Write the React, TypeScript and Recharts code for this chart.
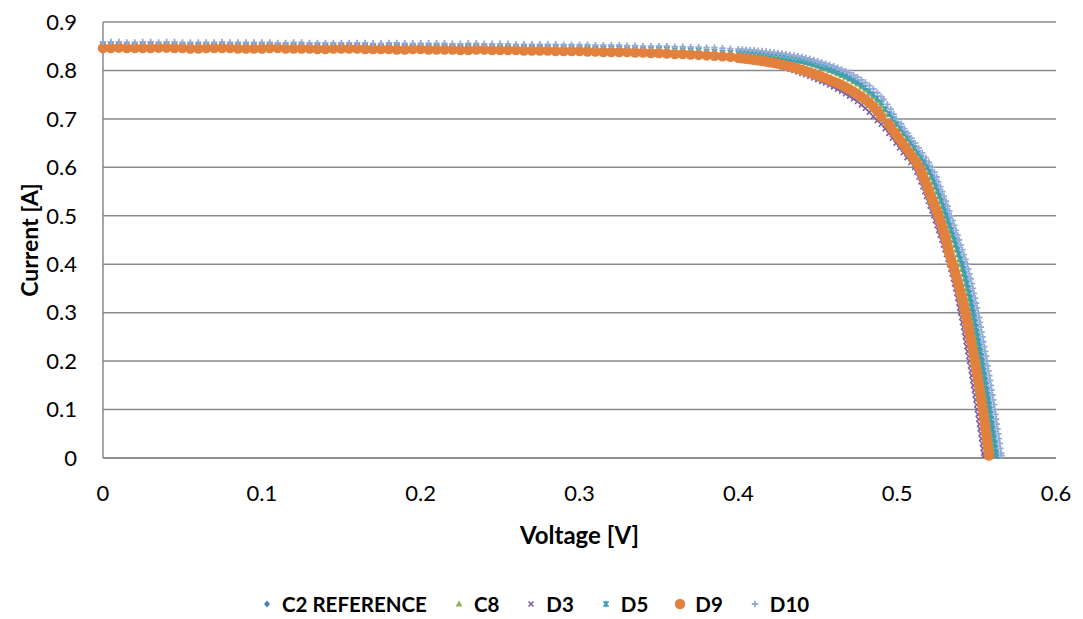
import { ScatterChart, Scatter, XAxis, YAxis, CartesianGrid } from "recharts";

const FONT = "Lato, 'Open Sans', sans-serif";

// axis ticks
const xTicks = [0, 0.1, 0.2, 0.3, 0.4, 0.5, 0.6];
const yTicks = [0, 0.1, 0.2, 0.3, 0.4, 0.5, 0.6, 0.7, 0.8, 0.9];

// sweep voltages, flat part of the curves (0 .. 0.4 V)
const sweepV = [
  0, 0.005, 0.01, 0.015, 0.02, 0.025, 0.03, 0.035, 0.04, 0.045,
  0.05, 0.055, 0.06, 0.065, 0.07, 0.075, 0.08, 0.085, 0.09, 0.095,
  0.1, 0.105, 0.11, 0.115, 0.12, 0.125, 0.13, 0.135, 0.14, 0.145,
  0.15, 0.155, 0.16, 0.165, 0.17, 0.175, 0.18, 0.185, 0.19, 0.195,
  0.2, 0.205, 0.21, 0.215, 0.22, 0.225, 0.23, 0.235, 0.24, 0.245,
  0.25, 0.255, 0.26, 0.265, 0.27, 0.275, 0.28, 0.285, 0.29, 0.295,
  0.3, 0.305, 0.31, 0.315, 0.32, 0.325, 0.33, 0.335, 0.34, 0.345,
  0.35, 0.355, 0.36, 0.365, 0.37, 0.375, 0.38, 0.385, 0.39, 0.395,
  0.4,
];

// sweep voltages around the knee
const kneeV = [
  0.4025, 0.405, 0.4075, 0.41, 0.4125, 0.415, 0.4175, 0.42, 0.4225, 0.425,
  0.4275, 0.43, 0.4325, 0.435, 0.4375, 0.44, 0.4425, 0.445, 0.4475, 0.45,
  0.4525, 0.455, 0.4575, 0.46, 0.4625, 0.465, 0.4675, 0.47, 0.4725, 0.475,
  0.4775, 0.48, 0.4825, 0.485, 0.4875, 0.49,
];

// current levels on the steep part (voltage read per series)
const steepI = [
  0.74, 0.73, 0.72, 0.71, 0.7, 0.69, 0.68, 0.67, 0.66, 0.65,
  0.64, 0.63, 0.62, 0.61, 0.6, 0.59, 0.58, 0.57, 0.56, 0.55,
  0.54, 0.53, 0.52, 0.51, 0.5, 0.49, 0.48, 0.47, 0.46, 0.45,
  0.44, 0.43, 0.42, 0.41, 0.4, 0.39, 0.38, 0.37, 0.36, 0.35,
  0.34, 0.33, 0.32, 0.31, 0.3, 0.29, 0.28, 0.27, 0.26, 0.25,
  0.24, 0.23, 0.22, 0.21, 0.2, 0.19, 0.18, 0.17, 0.16, 0.15,
  0.14, 0.13, 0.12, 0.11, 0.1, 0.09, 0.08, 0.07, 0.06, 0.05,
  0.04, 0.03, 0.02, 0.01, 0.005,
];

// ---- C2 REFERENCE ----
const c2Flat = [
  0.852, 0.852, 0.853, 0.853, 0.852, 0.852, 0.852, 0.852, 0.852, 0.852,
  0.852, 0.852, 0.851, 0.851, 0.852, 0.852, 0.851, 0.851, 0.851, 0.851,
  0.851, 0.851, 0.851, 0.851, 0.85, 0.85, 0.851, 0.851, 0.85, 0.85,
  0.85, 0.85, 0.85, 0.85, 0.849, 0.849, 0.85, 0.85, 0.849, 0.849,
  0.849, 0.849, 0.848, 0.848, 0.848, 0.848, 0.848, 0.848, 0.847, 0.847,
  0.847, 0.847, 0.846, 0.846, 0.846, 0.846, 0.845, 0.845, 0.845, 0.845,
  0.844, 0.844, 0.843, 0.843, 0.842, 0.842, 0.841, 0.841, 0.84, 0.84,
  0.839, 0.838, 0.837, 0.836, 0.835, 0.834, 0.833, 0.832, 0.831, 0.83,
  0.828,
];
const c2Knee = [
  0.827, 0.826, 0.825, 0.824, 0.8225, 0.821, 0.8195, 0.818, 0.816, 0.814,
  0.812, 0.81, 0.8075, 0.805, 0.8025, 0.8, 0.797, 0.794, 0.791, 0.788,
  0.7845, 0.781, 0.7775, 0.774, 0.77, 0.766, 0.7615, 0.757, 0.7515, 0.746,
  0.74, 0.734, 0.727, 0.719, 0.71, 0.7,
];
const c2Steep = [
  null, null, null, null, null, 0.4935, 0.4958, 0.498, 0.5003, 0.5025,
  0.5048, 0.507, 0.5092, 0.5112, 0.5132, 0.5145, 0.5158, 0.5171, 0.5183, 0.5195,
  0.5206, 0.5218, 0.5229, 0.524, 0.5251, 0.5262, 0.5272, 0.5282, 0.5292, 0.5302,
  0.5312, 0.5322, 0.5331, 0.5341, 0.535, 0.5358, 0.5366, 0.5374, 0.5381, 0.5388,
  0.5395, 0.5402, 0.5408, 0.5414, 0.542, 0.5426, 0.5432, 0.5438, 0.5443, 0.5449,
  0.5454, 0.546, 0.5465, 0.5471, 0.5476, 0.5481, 0.5486, 0.5491, 0.5496, 0.5501,
  0.5506, 0.5511, 0.5516, 0.5521, 0.5525, 0.553, 0.5534, 0.5539, 0.5543, 0.5548,
  0.5552, 0.5557, 0.5561, 0.5565, 0.5568,
];

// ---- C8 ----
const c8Flat = [
  0.855, 0.855, 0.856, 0.856, 0.855, 0.855, 0.856, 0.856, 0.855, 0.855,
  0.855, 0.855, 0.855, 0.855, 0.855, 0.855, 0.854, 0.854, 0.855, 0.855,
  0.854, 0.854, 0.854, 0.854, 0.854, 0.854, 0.854, 0.854, 0.853, 0.853,
  0.854, 0.854, 0.853, 0.853, 0.853, 0.853, 0.853, 0.853, 0.852, 0.852,
  0.852, 0.852, 0.852, 0.852, 0.852, 0.852, 0.851, 0.851, 0.851, 0.851,
  0.851, 0.851, 0.85, 0.85, 0.85, 0.85, 0.849, 0.849, 0.849, 0.849,
  0.848, 0.848, 0.848, 0.848, 0.847, 0.847, 0.846, 0.846, 0.845, 0.845,
  0.844, 0.844, 0.843, 0.843, 0.842, 0.842, 0.84, 0.84, 0.838, 0.838,
  0.836,
];
const c8Knee = [
  0.835, 0.834, 0.833, 0.8325, 0.832, 0.831, 0.83, 0.829, 0.828, 0.827,
  0.8255, 0.824, 0.8225, 0.821, 0.8195, 0.818, 0.816, 0.814, 0.8115, 0.809,
  0.806, 0.803, 0.8, 0.797, 0.7935, 0.79, 0.786, 0.782, 0.777, 0.772,
  0.766, 0.76, 0.753, 0.746, 0.737, 0.728,
];
const c8Steep = [
  null, null, 0.4918, 0.4943, 0.4965, 0.4988, 0.5012, 0.5035, 0.5057, 0.5079,
  0.51, 0.5122, 0.5143, 0.5163, 0.5183, 0.5198, 0.5212, 0.5225, 0.5237, 0.5249,
  0.526, 0.5271, 0.5282, 0.5293, 0.5303, 0.5313, 0.5323, 0.5333, 0.5343, 0.5353,
  0.5362, 0.5372, 0.5381, 0.5391, 0.54, 0.5408, 0.5416, 0.5424, 0.5431, 0.5438,
  0.5445, 0.5452, 0.5458, 0.5464, 0.547, 0.5476, 0.5482, 0.5488, 0.5493, 0.5499,
  0.5504, 0.551, 0.5515, 0.5521, 0.5526, 0.5531, 0.5536, 0.5541, 0.5546, 0.5551,
  0.5556, 0.5561, 0.5566, 0.5571, 0.5575, 0.558, 0.5584, 0.5589, 0.5593, 0.5598,
  0.5602, 0.5607, 0.5611, 0.5615, 0.5618,
];

// ---- D3 ----
const d3Flat = [
  0.853, 0.853, 0.852, 0.852, 0.852, 0.852, 0.853, 0.853, 0.852, 0.852,
  0.852, 0.852, 0.852, 0.852, 0.851, 0.851, 0.852, 0.852, 0.851, 0.851,
  0.851, 0.851, 0.851, 0.851, 0.85, 0.85, 0.85, 0.85, 0.85, 0.85,
  0.85, 0.85, 0.849, 0.849, 0.849, 0.849, 0.849, 0.849, 0.848, 0.848,
  0.848, 0.848, 0.848, 0.848, 0.847, 0.847, 0.847, 0.847, 0.846, 0.846,
  0.846, 0.846, 0.845, 0.845, 0.845, 0.845, 0.844, 0.844, 0.843, 0.843,
  0.843, 0.843, 0.842, 0.842, 0.841, 0.841, 0.84, 0.84, 0.838, 0.838,
  0.837, 0.836, 0.835, 0.834, 0.833, 0.832, 0.83, 0.829, 0.827, 0.826,
  0.824,
];
const d3Knee = [
  0.8235, 0.8225, 0.821, 0.82, 0.8185, 0.817, 0.8155, 0.814, 0.812, 0.81,
  0.8075, 0.805, 0.8025, 0.8, 0.797, 0.794, 0.791, 0.788, 0.7845, 0.781,
  0.7775, 0.774, 0.77, 0.766, 0.7615, 0.757, 0.752, 0.747, 0.7415, 0.736,
  0.729, 0.722, 0.714, 0.705, 0.697, 0.689,
];
const d3Steep = [
  null, null, null, null, null, null, 0.4925, 0.4948, 0.497, 0.4993,
  0.5015, 0.5038, 0.5062, 0.5086, 0.511, 0.5124, 0.5137, 0.515, 0.5162, 0.5174,
  0.5185, 0.5197, 0.5208, 0.5219, 0.523, 0.5241, 0.5251, 0.5261, 0.5271, 0.5281,
  0.5291, 0.5301, 0.531, 0.532, 0.533, 0.5338, 0.5346, 0.5354, 0.5361, 0.5368,
  0.5375, 0.5382, 0.5388, 0.5394, 0.54, 0.5406, 0.5412, 0.5418, 0.5423, 0.5429,
  0.5434, 0.544, 0.5445, 0.5451, 0.5456, 0.5461, 0.5466, 0.5471, 0.5476, 0.5481,
  0.5486, 0.5491, 0.5496, 0.5501, 0.5505, 0.551, 0.5514, 0.5519, 0.5523, 0.5528,
  0.5532, 0.5537, 0.5541, 0.5545, 0.5548,
];

// ---- D5 ----
const d5Flat = [
  0.853, 0.853, 0.854, 0.853, 0.853, 0.853, 0.853, 0.853, 0.853, 0.853,
  0.852, 0.852, 0.853, 0.853, 0.852, 0.852, 0.852, 0.852, 0.852, 0.852,
  0.852, 0.852, 0.852, 0.852, 0.851, 0.851, 0.852, 0.852, 0.851, 0.851,
  0.851, 0.851, 0.851, 0.851, 0.85, 0.85, 0.851, 0.851, 0.85, 0.85,
  0.85, 0.85, 0.85, 0.85, 0.849, 0.849, 0.849, 0.849, 0.849, 0.849,
  0.848, 0.848, 0.848, 0.848, 0.848, 0.848, 0.847, 0.847, 0.847, 0.847,
  0.846, 0.846, 0.846, 0.846, 0.845, 0.845, 0.844, 0.844, 0.844, 0.844,
  0.843, 0.843, 0.842, 0.842, 0.841, 0.841, 0.839, 0.839, 0.837, 0.837,
  0.836,
];
const d5Knee = [
  0.8355, 0.835, 0.834, 0.8335, 0.833, 0.832, 0.831, 0.83, 0.829, 0.828,
  0.827, 0.8255, 0.824, 0.823, 0.8215, 0.82, 0.818, 0.816, 0.8135, 0.811,
  0.8085, 0.806, 0.803, 0.8, 0.7965, 0.793, 0.789, 0.785, 0.7805, 0.776,
  0.7705, 0.765, 0.758, 0.751, 0.743, 0.734,
];
const d5Steep = [
  null, null, 0.4928, 0.4953, 0.4975, 0.4998, 0.5022, 0.5045, 0.5067, 0.5089,
  0.511, 0.5132, 0.5153, 0.5173, 0.5193, 0.5208, 0.5222, 0.5235, 0.5247, 0.5259,
  0.527, 0.5281, 0.5292, 0.5303, 0.5313, 0.5323, 0.5333, 0.5343, 0.5353, 0.5363,
  0.5372, 0.5382, 0.5391, 0.5401, 0.541, 0.5418, 0.5426, 0.5434, 0.5441, 0.5448,
  0.5455, 0.5462, 0.5468, 0.5474, 0.548, 0.5486, 0.5492, 0.5498, 0.5503, 0.5509,
  0.5514, 0.552, 0.5525, 0.5531, 0.5536, 0.5541, 0.5546, 0.5551, 0.5556, 0.5561,
  0.5566, 0.5571, 0.5576, 0.5581, 0.5585, 0.559, 0.5594, 0.5599, 0.5603, 0.5608,
  0.5612, 0.5617, 0.5621, 0.5625, 0.5628,
];

// ---- D9 ----
const d9Flat = [
  0.846, 0.846, 0.847, 0.846, 0.846, 0.846, 0.846, 0.847, 0.847, 0.846,
  0.846, 0.845, 0.845, 0.846, 0.846, 0.846, 0.846, 0.845, 0.845, 0.845,
  0.845, 0.846, 0.846, 0.845, 0.845, 0.845, 0.845, 0.844, 0.844, 0.845,
  0.845, 0.845, 0.845, 0.844, 0.844, 0.844, 0.844, 0.843, 0.843, 0.844,
  0.844, 0.843, 0.843, 0.843, 0.843, 0.842, 0.842, 0.843, 0.843, 0.842,
  0.842, 0.842, 0.842, 0.841, 0.841, 0.841, 0.841, 0.84, 0.84, 0.84,
  0.84, 0.839, 0.839, 0.838, 0.838, 0.838, 0.838, 0.837, 0.837, 0.836,
  0.836, 0.835, 0.834, 0.834, 0.833, 0.832, 0.831, 0.83, 0.829, 0.828,
  0.826,
];
const d9Knee = [
  0.825, 0.824, 0.823, 0.822, 0.821, 0.82, 0.8185, 0.817, 0.8155, 0.814,
  0.812, 0.81, 0.808, 0.806, 0.8035, 0.801, 0.7985, 0.796, 0.793, 0.79,
  0.787, 0.784, 0.7805, 0.777, 0.7735, 0.77, 0.7655, 0.761, 0.756, 0.751,
  0.7455, 0.74, 0.733, 0.725, 0.716, 0.705,
];
const d9Steep = [
  null, null, null, null, null, 0.4945, 0.4965, 0.4988, 0.501, 0.5033,
  0.5055, 0.5078, 0.51, 0.512, 0.514, 0.5153, 0.5165, 0.5178, 0.519, 0.5202,
  0.5213, 0.5225, 0.5237, 0.5249, 0.526, 0.527, 0.528, 0.529, 0.53, 0.5308,
  0.5315, 0.5323, 0.533, 0.534, 0.535, 0.5359, 0.5367, 0.5376, 0.5384, 0.5392,
  0.54, 0.5408, 0.5415, 0.5423, 0.543, 0.5436, 0.5442, 0.5448, 0.5454, 0.546,
  0.5466, 0.5472, 0.5478, 0.5484, 0.549, 0.5495, 0.55, 0.5505, 0.551, 0.5515,
  0.552, 0.5525, 0.553, 0.5535, 0.554, 0.5544, 0.5548, 0.5552, 0.5556, 0.556,
  0.5564, 0.5568, 0.5572, 0.5576, 0.5578,
];

// ---- D10 ----
const d10Flat = [
  0.859, 0.859, 0.859, 0.858, 0.858, 0.859, 0.859, 0.858, 0.859, 0.859,
  0.858, 0.858, 0.858, 0.858, 0.858, 0.859, 0.858, 0.858, 0.858, 0.858,
  0.858, 0.858, 0.857, 0.857, 0.858, 0.858, 0.857, 0.857, 0.857, 0.857,
  0.857, 0.857, 0.857, 0.857, 0.856, 0.856, 0.857, 0.857, 0.856, 0.856,
  0.856, 0.856, 0.856, 0.856, 0.855, 0.855, 0.856, 0.856, 0.855, 0.855,
  0.855, 0.855, 0.854, 0.854, 0.854, 0.854, 0.854, 0.854, 0.853, 0.853,
  0.853, 0.853, 0.852, 0.852, 0.852, 0.852, 0.851, 0.851, 0.85, 0.85,
  0.85, 0.85, 0.849, 0.849, 0.848, 0.848, 0.847, 0.847, 0.846, 0.845,
  0.844,
];
const d10Knee = [
  0.8435, 0.843, 0.8425, 0.842, 0.841, 0.84, 0.839, 0.838, 0.837, 0.836,
  0.835, 0.8335, 0.832, 0.831, 0.8295, 0.828, 0.826, 0.824, 0.8215, 0.819,
  0.8165, 0.814, 0.8115, 0.809, 0.8055, 0.802, 0.7985, 0.795, 0.7905, 0.786,
  0.7805, 0.775, 0.7685, 0.762, 0.754, 0.746,
];
const d10Steep = [
  0.4915, 0.4938, 0.496, 0.4978, 0.4995, 0.5025, 0.5045, 0.5068, 0.509, 0.5113,
  0.5135, 0.5158, 0.518, 0.52, 0.522, 0.5234, 0.5248, 0.526, 0.5272, 0.5284,
  0.5295, 0.5307, 0.5318, 0.5329, 0.534, 0.535, 0.536, 0.537, 0.538, 0.539,
  0.54, 0.541, 0.542, 0.543, 0.544, 0.5448, 0.5455, 0.5463, 0.547, 0.5477,
  0.5483, 0.549, 0.5496, 0.5503, 0.551, 0.5516, 0.5521, 0.5527, 0.5532, 0.5538,
  0.5543, 0.5549, 0.5554, 0.556, 0.5565, 0.557, 0.5575, 0.558, 0.5585, 0.559,
  0.5595, 0.56, 0.5605, 0.561, 0.5614, 0.5619, 0.5623, 0.5628, 0.5632, 0.5637,
  0.5641, 0.5646, 0.565, 0.5654, 0.5657,
];

const buildSeries = (flat: number[], knee: number[], steep: (number | null)[]) => [
  ...sweepV.map((v, k) => ({ v, i: flat[k] })),
  ...kneeV.map((v, k) => ({ v, i: knee[k] })),
  ...steepI.flatMap((i, k) => (steep[k] == null ? [] : [{ v: steep[k] as number, i }])),
];

const SERIES = [
  { name: "C2 REFERENCE", color: "#4a7ebb", kind: "diamond", data: buildSeries(c2Flat, c2Knee, c2Steep) },
  { name: "C8", color: "#8db255", kind: "triangle", data: buildSeries(c8Flat, c8Knee, c8Steep) },
  { name: "D3", color: "#7b5ea3", kind: "x", data: buildSeries(d3Flat, d3Knee, d3Steep) },
  { name: "D5", color: "#3f9db6", kind: "star", data: buildSeries(d5Flat, d5Knee, d5Steep) },
  { name: "D9", color: "#e2803e", kind: "circle", data: buildSeries(d9Flat, d9Knee, d9Steep) },
  { name: "D10", color: "#93aad6", kind: "plus", data: buildSeries(d10Flat, d10Knee, d10Steep) },
];

function Marker({ kind, color, cx, cy }: { kind: string; color: string; cx: number; cy: number }) {
  switch (kind) {
    case "diamond":
      return <path d={`M${cx},${cy - 3.5}L${cx + 3},${cy}L${cx},${cy + 3.5}L${cx - 3},${cy}Z`} fill={color} />;
    case "triangle":
      return <path d={`M${cx},${cy - 3.6}L${cx + 3.4},${cy + 2.6}L${cx - 3.4},${cy + 2.6}Z`} fill={color} />;
    case "x":
      return (
        <path
          d={`M${cx - 2.5},${cy - 2.5}L${cx + 2.5},${cy + 2.5}M${cx + 2.5},${cy - 2.5}L${cx - 2.5},${cy + 2.5}`}
          stroke={color}
          strokeWidth={1.6}
        />
      );
    case "star":
      return (
        <path
          d={`M${cx - 2.6},${cy - 2.6}L${cx + 2.6},${cy + 2.6}M${cx + 2.6},${cy - 2.6}L${cx - 2.6},${cy + 2.6}M${cx},${cy - 3.2}L${cx},${cy + 3.2}`}
          stroke={color}
          strokeWidth={1.6}
        />
      );
    case "circle":
      return <circle cx={cx} cy={cy} r={5.2} fill={color} />;
    default:
      return (
        <path
          d={`M${cx - 3.2},${cy}L${cx + 3.2},${cy}M${cx},${cy - 3.2}L${cx},${cy + 3.2}`}
          stroke={color}
          strokeWidth={1.8}
        />
      );
  }
}

const yTitle = (props: any) => {
  const vb = props.viewBox || { x: 0, y: 22, width: 103, height: 436 };
  const x = 29;
  const y = vb.y + vb.height / 2;
  return (
    <text
      x={x}
      y={y}
      transform={`rotate(-90 ${x} ${y})`}
      textAnchor="middle"
      dominantBaseline="central"
      fontFamily={FONT}
      fontWeight={700}
      fontSize={23}
      fill="#000"
    >
      Current [A]
    </text>
  );
};

const xTitle = (props: any) => {
  const vb = props.viewBox || { x: 103, y: 458, width: 953, height: 161 };
  return (
    <text
      x={vb.x + vb.width / 2}
      y={534}
      textAnchor="middle"
      dominantBaseline="central"
      fontFamily={FONT}
      fontWeight={700}
      fontSize={24}
      fill="#000"
    >
      Voltage [V]
    </text>
  );
};

const tickStyle = { fontFamily: FONT, fontSize: 22, fill: "#000" };

export default function App() {
  return (
    <div style={{ position: "absolute", left: 0, top: 0, width: 1083, height: 619, background: "#fff" }}>
      <ScatterChart width={1083} height={619} margin={{ top: 22, right: 27, bottom: 0, left: 0 }}>
        <CartesianGrid vertical={false} stroke="#8a8a8a" strokeWidth={1.5} />
        <XAxis
          type="number"
          dataKey="v"
          domain={[0, 0.6]}
          ticks={xTicks}
          interval={0}
          height={161}
          tickSize={0}
          tickMargin={27}
          tick={tickStyle}
          tickFormatter={(v: number) => String(v)}
          axisLine={{ stroke: "#8a8a8a", strokeWidth: 1.5 }}
          label={xTitle}
        />
        <YAxis
          type="number"
          dataKey="i"
          domain={[0, 0.9]}
          ticks={yTicks}
          interval={0}
          width={103}
          tickSize={0}
          tickMargin={26}
          tick={tickStyle}
          tickFormatter={(v: number) => String(v)}
          axisLine={{ stroke: "#8a8a8a", strokeWidth: 1.5 }}
          label={yTitle}
        />
        {SERIES.map((s) => (
          <Scatter
            key={s.name}
            name={s.name}
            data={s.data}
            isAnimationActive={false}
            shape={(p: any) => <Marker kind={s.kind} color={s.color} cx={p.cx} cy={p.cy} />}
          />
        ))}
      </ScatterChart>
      <div
        style={{
          position: "absolute",
          left: 261,
          top: 591,
          display: "flex",
          alignItems: "center",
          fontFamily: FONT,
          fontWeight: 700,
          fontSize: 20.5,
          lineHeight: "26px",
          color: "#000",
        }}
      >
        {SERIES.map((s) => (
          <div key={s.name} style={{ display: "flex", alignItems: "center", marginRight: 26 }}>
            <svg width={12} height={12}>
              <Marker kind={s.kind} color={s.color} cx={6} cy={6} />
            </svg>
            <span style={{ marginLeft: 9 }}>{s.name}</span>
          </div>
        ))}
      </div>
    </div>
  );
}
